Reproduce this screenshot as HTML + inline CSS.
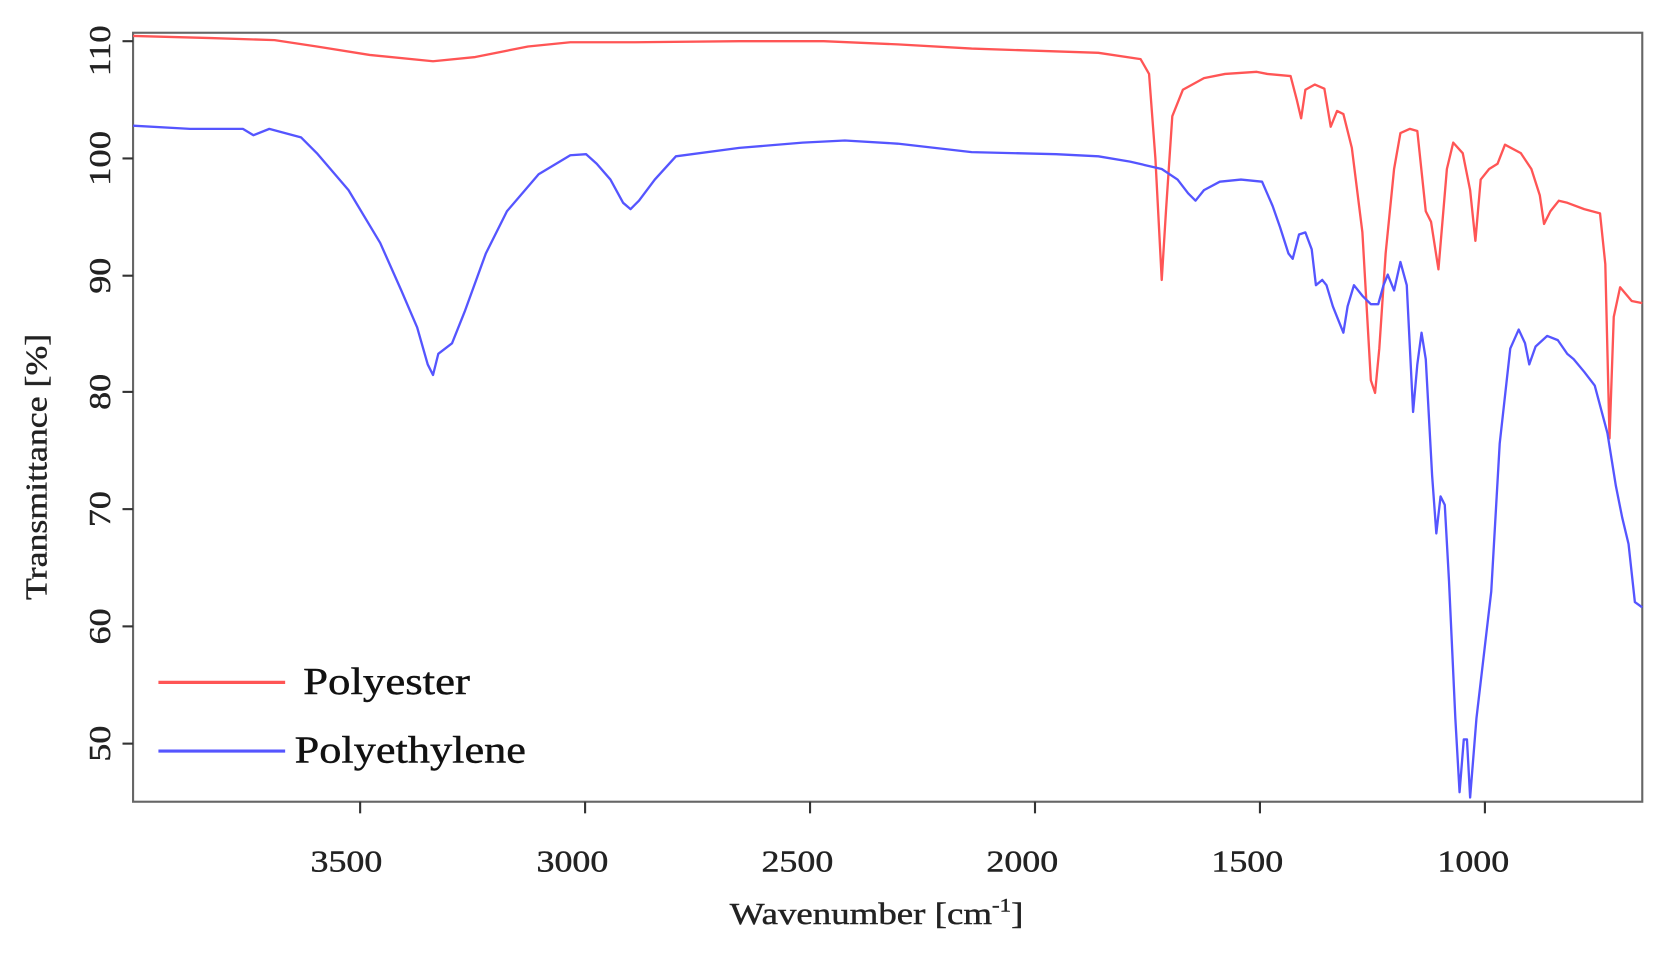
<!DOCTYPE html>
<html><head><meta charset="utf-8"><style>html,body{margin:0;padding:0;background:#fff}svg{display:block}</style></head>
<body>
<svg width="1656" height="957" viewBox="0 0 1568 906" preserveAspectRatio="none" xmlns="http://www.w3.org/2000/svg" font-family="Liberation Serif, serif">
<rect width="1568" height="906" fill="#fff"/>
<rect x="126" y="31" width="1429" height="728" fill="none" stroke="#666" stroke-width="2"/>
<g stroke="#333" stroke-width="2">
<line x1="341" y1="759" x2="341" y2="770"/><line x1="554" y1="759" x2="554" y2="770"/><line x1="767" y1="759" x2="767" y2="770"/><line x1="980" y1="759" x2="980" y2="770"/><line x1="1193" y1="759" x2="1193" y2="770"/><line x1="1406" y1="759" x2="1406" y2="770"/>
<line x1="116" y1="39" x2="126" y2="39"/><line x1="116" y1="150" x2="126" y2="150"/><line x1="116" y1="261" x2="126" y2="261"/><line x1="116" y1="371" x2="126" y2="371"/><line x1="116" y1="482" x2="126" y2="482"/><line x1="116" y1="593" x2="126" y2="593"/><line x1="116" y1="704" x2="126" y2="704"/>
</g>
<g font-size="29" fill="#222" text-anchor="middle" stroke="#222" stroke-width="0.4">
<text x="328" y="825" textLength="68" lengthAdjust="spacingAndGlyphs">3500</text><text x="542" y="825" textLength="68" lengthAdjust="spacingAndGlyphs">3000</text><text x="755" y="825" textLength="68" lengthAdjust="spacingAndGlyphs">2500</text><text x="968" y="825" textLength="68" lengthAdjust="spacingAndGlyphs">2000</text><text x="1181" y="825" textLength="68" lengthAdjust="spacingAndGlyphs">1500</text><text x="1395" y="825" textLength="68" lengthAdjust="spacingAndGlyphs">1000</text>
<g transform="rotate(-90)">
<text x="-48" y="104" textLength="48" lengthAdjust="spacingAndGlyphs">110</text><text x="-150" y="104" textLength="52" lengthAdjust="spacingAndGlyphs">100</text><text x="-261" y="104" textLength="34" lengthAdjust="spacingAndGlyphs">90</text><text x="-371" y="104" textLength="34" lengthAdjust="spacingAndGlyphs">80</text><text x="-482" y="104" textLength="34" lengthAdjust="spacingAndGlyphs">70</text><text x="-593" y="104" textLength="34" lengthAdjust="spacingAndGlyphs">60</text><text x="-704" y="104" textLength="34" lengthAdjust="spacingAndGlyphs">50</text>
<text x="-442" y="44" textLength="252" lengthAdjust="spacingAndGlyphs">Transmittance [%]</text>
</g>
<text x="830" y="875" textLength="278" lengthAdjust="spacingAndGlyphs">Wavenumber [cm<tspan font-size="18" dy="-12">-1</tspan><tspan dy="12">]</tspan></text>
</g>
<polyline fill="none" stroke="#f55" stroke-width="2.2" stroke-linejoin="round" points="126,34 200,36 260,38 300,44 350,52 410,58 450,54 500,44 540,40 600,40 700,39 780,39 850,42 920,46 980,48 1040,50 1080,56 1088,70 1094,150 1100,265 1104,200 1110,110 1120,85 1140,74 1160,70 1190,68 1200,70 1222,72 1228,95 1232,112 1236,85 1245,80 1254,84 1260,120 1266,105 1272,108 1280,140 1290,220 1298,360 1302,372 1306,330 1312,240 1320,160 1326,126 1335,122 1342,124 1350,200 1355,210 1362,255 1370,160 1376,135 1385,145 1392,180 1397,228 1402,170 1410,160 1418,155 1425,137 1440,145 1450,160 1458,185 1462,212 1468,200 1476,190 1484,192 1500,198 1515,202 1520,250 1524,415 1528,300 1534,272 1545,285 1555,287"/>
<polyline fill="none" stroke="#55f" stroke-width="2.2" stroke-linejoin="round" points="126,119 180,122 230,122 240,128 255,122 285,130 300,145 330,180 360,230 380,275 395,310 405,345 410,355 415,335 428,325 440,295 460,240 480,200 510,165 540,147 555,146 565,155 578,170 590,192 597,198 605,190 620,170 640,148 700,140 760,135 800,133 850,136 920,144 1000,146 1040,148 1070,153 1100,160 1115,170 1125,183 1132,190 1140,180 1155,172 1175,170 1195,172 1205,195 1212,215 1220,240 1224,245 1230,222 1236,220 1242,236 1246,270 1252,265 1256,270 1262,290 1268,305 1272,315 1276,290 1282,270 1290,280 1298,288 1305,288 1310,270 1314,260 1320,275 1326,248 1332,270 1338,390 1342,345 1346,315 1350,340 1356,450 1360,505 1364,470 1368,478 1372,550 1378,680 1382,750 1386,700 1389,700 1392,755 1398,680 1405,620 1412,560 1420,420 1430,330 1438,312 1444,325 1448,345 1454,328 1465,318 1475,322 1484,335 1490,340 1500,352 1510,365 1522,410 1530,460 1536,490 1542,515 1548,570 1555,575"/>
<line x1="150" y1="646" x2="270" y2="646" stroke="#f55" stroke-width="3"/>
<line x1="150" y1="711" x2="270" y2="711" stroke="#55f" stroke-width="3"/>
<g font-size="36" fill="#111" stroke="#111" stroke-width="0.4"><text x="287" y="657" textLength="158" lengthAdjust="spacingAndGlyphs">Polyester</text><text x="279" y="722" textLength="219" lengthAdjust="spacingAndGlyphs">Polyethylene</text></g>
</svg>
</body></html>
